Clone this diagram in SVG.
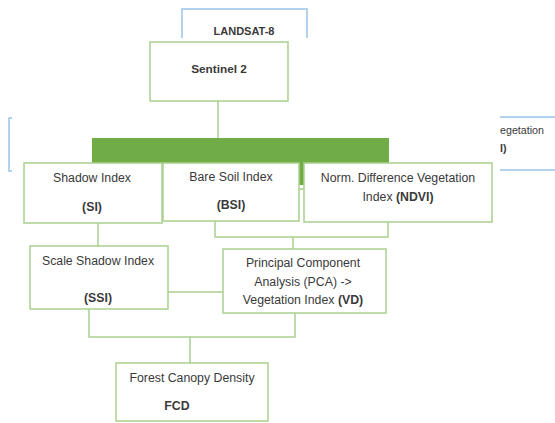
<svg xmlns="http://www.w3.org/2000/svg" width="555" height="423" viewBox="0 0 555 423">
<style>
.box{fill:#fff;stroke:#A9D18E;stroke-width:1.5}
.con{fill:none;stroke:#A9D18E;stroke-width:1.5}
.blue{fill:none;stroke:#9DC3E6;stroke-width:1.5}
text{font-family:"Liberation Sans",Arial,sans-serif;font-size:12.3px;fill:#3a3a3a;text-anchor:middle}
.b{font-weight:bold}
.s{font-size:10.7px;text-anchor:start}
</style>
<rect width="555" height="423" fill="#fff"/>
<g id="landsat">
<path class="blue" d="M182,38 V9 H307 V38"/>
<text x="244" y="35" class="b" style="font-size:11px">LANDSAT-8</text>
</g>
<g id="bg-box">
<path class="blue" d="M12,118 H9 V171 H12"/>
<path class="blue" d="M500,117 H555 M500,170 H555"/>
<text x="500" y="134" class="s">egetation</text>
<text x="500" y="152" class="s b">I)</text>
</g>
<g id="connectors">
<line class="con" x1="218" y1="101" x2="218" y2="138"/>
<line class="con" x1="98" y1="223" x2="98" y2="246"/>
<path class="con" d="M215,221 V237 H388 V222"/>
<line class="con" x1="293" y1="237" x2="293" y2="249"/>
<line class="con" x1="168" y1="292" x2="223" y2="292"/>
<path class="con" d="M89,309 V337 H295 V313"/>
<line class="con" x1="190" y1="337" x2="190" y2="363"/>
<path class="con" d="M299,189 H305"/>
</g>
<g id="bar">
<rect x="92" y="138" width="297" height="26" fill="#70AD47"/>
<rect x="299" y="160" width="6" height="25" fill="#70AD47"/>
</g>
<g id="sentinel">
<rect class="box" x="150" y="42" width="138" height="59"/>
<text x="219" y="73" class="b" style="font-size:11.8px">Sentinel 2</text>
</g>
<g id="si">
<rect class="box" x="24" y="163" width="138" height="60"/>
<text x="92" y="182">Shadow Index</text>
<text x="92" y="211" class="b">(SI)</text>
</g>
<g id="bsi">
<rect class="box" x="163" y="163" width="136" height="58"/>
<text x="231" y="181">Bare Soil Index</text>
<text x="231" y="209" class="b">(BSI)</text>
</g>
<g id="ndvi">
<rect class="box" x="304" y="163" width="188" height="59"/>
<text x="398" y="182">Norm. Difference Vegetation</text>
<text x="398" y="201">Index <tspan class="b">(NDVI)</tspan></text>
</g>
<g id="ssi">
<rect class="box" x="30" y="246" width="138" height="63"/>
<text x="98" y="265">Scale Shadow Index</text>
<text x="98" y="302" class="b">(SSI)</text>
</g>
<g id="pca">
<rect class="box" x="223" y="249" width="163" height="64"/>
<text x="303" y="267">Principal Component</text>
<text x="303" y="286">Analysis (PCA) -&gt;</text>
<text x="303" y="304">Vegetation Index <tspan class="b">(VD)</tspan></text>
</g>
<g id="fcd">
<rect class="box" x="116" y="363" width="152" height="58"/>
<text x="192" y="382">Forest Canopy Density</text>
<text x="177" y="410" class="b">FCD</text>
</g>
</svg>
